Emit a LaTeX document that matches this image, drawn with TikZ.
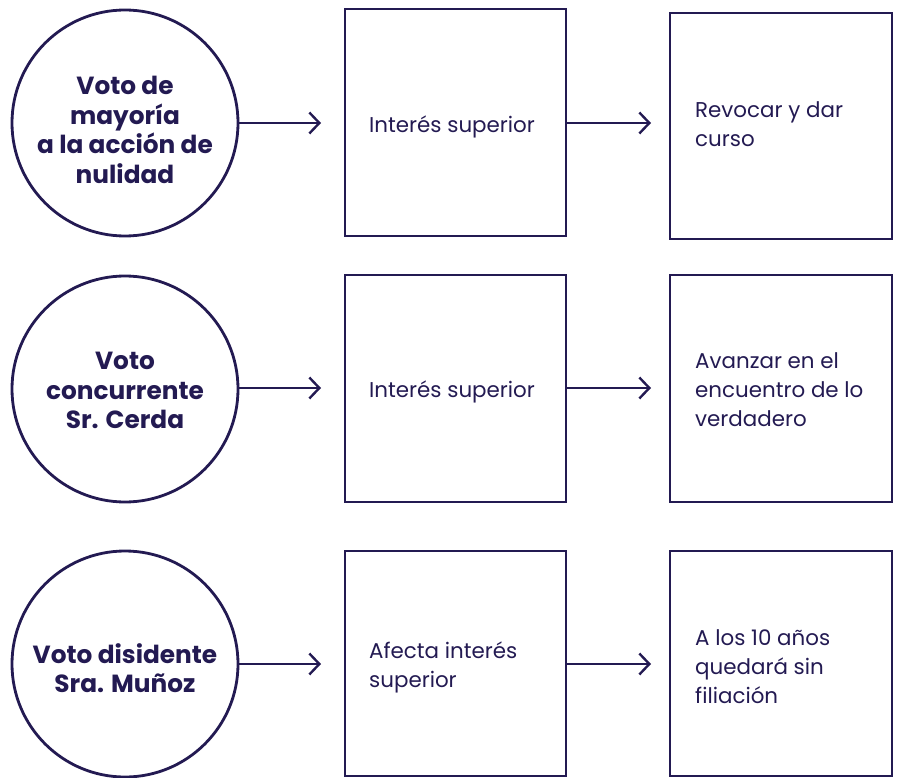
\documentclass[tikz,border=0pt]{standalone}
\usepackage{fontspec}
\setmainfont{Poppins}[BoldFont={Poppins Bold}]
\usetikzlibrary{arrows.meta}
\definecolor{navy}{RGB}{35,26,82}
\begin{document}
\begin{tikzpicture}[x=1pt,y=-1pt,
  every node/.style={text=navy},
  circ/.style={draw=navy,line width=2.8pt,circle,minimum size=226pt,inner sep=0pt},
  ctext/.style={align=center,inner sep=0pt,font=\fontsize{24.8}{29.5}\selectfont\bfseries},
  box/.style={draw=navy,line width=2.8pt,rectangle,inner sep=0pt},
  midbox/.style={box,minimum width=221pt},
  rbox/.style={box,minimum width=222pt},
  btext/.style={anchor=west,align=left,inner sep=0pt,font=\fontsize{21.4}{29}\selectfont},
  conn/.style={draw=navy,line width=2.4pt,-{Straight Barb[length=10pt,width=21pt,line width=2.4pt]}}
]
\useasboundingbox (0,0) rectangle (899,778);
% row 1
\node[circ] (c1) at (125,123) {};
\node[ctext] (t1) at (125,130) {Voto de\\mayoría\\a la acción de\\nulidad};
\node[midbox,minimum height=227pt] (m1) at (455.5,122.5) {};
\node[btext] (mt1) at (369,126.5) {Interés superior};
\node[rbox,minimum height=226pt] (r1) at (781,126) {};
\node[btext] (rt1) at (695,124) {Revocar y dar\\curso};
\coordinate (a1) at (321,123);
\coordinate (b1) at (651,123);
\draw[conn] (c1.east) -- (a1);
\draw[conn] (m1.east |- b1) -- (b1);
% row 2
\node[circ] (c2) at (125,389) {};
\node[ctext] (t2) at (125,390.5) {Voto\\concurrente\\Sr. Cerda};
\node[midbox,minimum height=227pt] (m2) at (455.5,388.5) {};
\node[btext] (mt2) at (369,391.5) {Interés superior};
\node[rbox,minimum height=227pt] (r2) at (781,388.5) {};
\node[btext] (rt2) at (695,389.5) {Avanzar en el\\encuentro de lo\\verdadero};
\coordinate (a2) at (321,388);
\coordinate (b2) at (651,388);
\draw[conn] (c2.east |- a2) -- (a2);
\draw[conn] (m2.east |- b2) -- (b2);
% row 3
\node[circ] (c3) at (125,664) {};
\node[ctext] (t3) at (125,668) {Voto disidente\\Sra. Muñoz};
\node[midbox,minimum height=225pt] (m3) at (455.5,663.5) {};
\node[btext] (mt3) at (369,667.5) {Afecta interés\\superior};
\node[rbox,minimum height=225pt] (r3) at (781,663.5) {};
\node[btext] (rt3) at (695,667) {A los 10 años\\quedará sin\\filiación};
\coordinate (a3) at (321,664);
\coordinate (b3) at (651,664);
\draw[conn] (c3.east |- a3) -- (a3);
\draw[conn] (m3.east |- b3) -- (b3);
\end{tikzpicture}
\end{document}
